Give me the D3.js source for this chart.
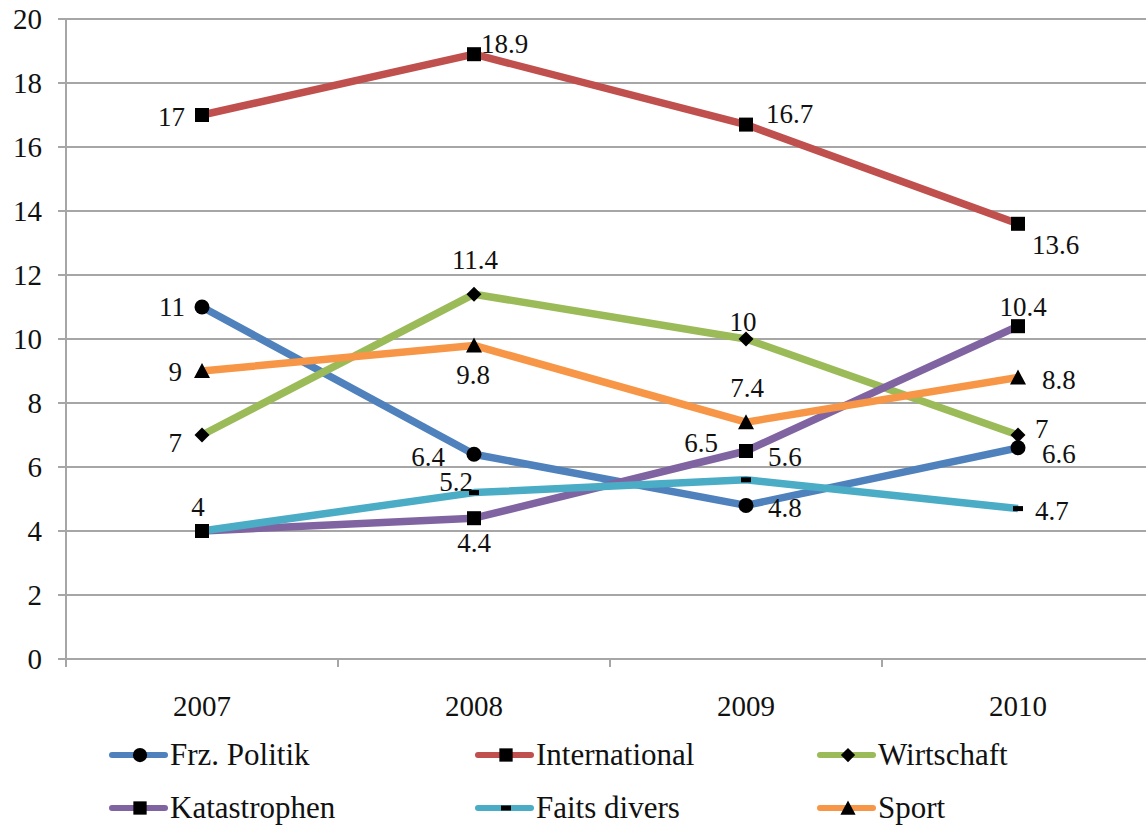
<!DOCTYPE html>
<html><head><meta charset="utf-8">
<script src="https://cdn.jsdelivr.net/npm/d3@7"></script>
<style>
svg text { font-family: "Times New Roman", Times, serif !important; }
</style>
</head><body style="margin:0">
<svg id="c" width="1146" height="826"></svg>
<script>
const years = ["2007","2008","2009","2010"];
const seriesNames = ["Frz. Politik","International","Wirtschaft","Katastrophen","Faits divers","Sport"];
const frzPolitik   = [11, 6.4, 4.8, 6.6];
const international= [17, 18.9, 16.7, 13.6];
const wirtschaft   = [7, 11.4, 10, 7];
const katastrophen = [4, 4.4, 6.5, 10.4];
const faitsDivers  = [4, 5.2, 5.6, 4.7];
const sport        = [9, 9.8, 7.4, 8.8];
const yTicks = [0,2,4,6,8,10,12,14,16,18,20];

// styling / layout (not data)
const colors = ["#4F81BD","#C0504D","#9BBB59","#8064A2","#4BACC6","#F79646"];
const markers = ["circle","square","diamond","square","dash","triangle"];
// label offsets per point: [dx, dy, anchor] (null = no label)
const labelPos = [
  [[-17,0,"end"],[-29,3,"end"],[22,3,"start"],[24,6,"start"]],
  [[-17,2,"end"],[7,-10,"start"],[20,-11,"start"],[14,21,"start"]],
  [[-20,8,"end"],[1,-34,"middle"],[-3,-17,"middle"],[17,-6,"start"]],
  [[-4,-24,"middle"],[0,25,"middle"],[-28,-8,"end"],[5,-19,"middle"]],
  [null,[-1,-11,"end"],[22,-23,"start"],[17,2,"start"]],
  [[-20,1,"end"],[-1,30,"middle"],[1,-34,"middle"],[24,3,"start"]]
];
const values = [frzPolitik, international, wirtschaft, katastrophen, faitsDivers, sport];

const svg = d3.select("#c");
function txt(sel){
  return sel.style("font-family", d => `"Times New Roman"`).attr("fill","#111");
}
const x = d3.scaleBand().domain(years).range([66, 1154]);
const y = d3.scaleLinear().domain([0,20]).range([659, 19]);
const cx = d => x(d) + x.bandwidth()/2;

svg.append("g").selectAll("line").data(yTicks).join("line")
  .attr("x1",58).attr("x2",1146).attr("y1",d=>y(d)).attr("y2",d=>y(d))
  .attr("stroke","#a6a6a6").attr("stroke-width",2);
svg.append("line").attr("x1",66).attr("x2",66).attr("y1",19).attr("y2",667).attr("stroke","#a6a6a6").attr("stroke-width",2);
svg.append("g").selectAll("line").data(years.slice(1)).join("line")
  .attr("x1",d=>x(d)).attr("x2",d=>x(d)).attr("y1",659).attr("y2",667)
  .attr("stroke","#a6a6a6").attr("stroke-width",2);
txt(svg.append("g").selectAll("text").data(yTicks).join("text")
  .attr("x",42).attr("y",d=>y(d)+10).attr("text-anchor","end")
  .attr("font-size",29)).text(d=>d);
txt(svg.append("g").selectAll("text").data(years).join("text")
  .attr("x",d=>cx(d)).attr("y",716).attr("text-anchor","middle")
  .attr("font-size",29)).text(d=>d);

function drawMarker(g, type, px, py, s) {
  s = s || 1;
  if (type==="circle") g.append("circle").attr("cx",px).attr("cy",py).attr("r",7.5*s).attr("fill","#000");
  else if (type==="square") g.append("rect").attr("x",px-7*s).attr("y",py-7*s).attr("width",14*s).attr("height",14*s).attr("fill","#000");
  else if (type==="diamond") g.append("path").attr("d",`M${px},${py-7.5*s}L${px+7.5*s},${py}L${px},${py+7.5*s}L${px-7.5*s},${py}Z`).attr("fill","#000");
  else if (type==="triangle") g.append("path").attr("d",`M${px},${py-8*s}L${px+8*s},${py+7*s}L${px-8*s},${py+7*s}Z`).attr("fill","#000");
  else if (type==="dash") g.append("rect").attr("x",px-5).attr("y",py-2.5).attr("width",10).attr("height",5).attr("fill","#000");
}

const line = d3.line().x((d,i)=>cx(years[i])).y(d=>y(d));
values.forEach((vals, si) => {
  svg.append("path").datum(vals).attr("d",line).attr("fill","none")
    .attr("stroke",colors[si]).attr("stroke-width",7.5).attr("stroke-linejoin","round");
});
values.forEach((vals, si) => {
  const g = svg.append("g");
  vals.forEach((v,i) => drawMarker(g, markers[si], cx(years[i]), y(v)));
});
values.forEach((vals, si) => {
  vals.forEach((v,i) => {
    const p = labelPos[si][i];
    if (!p) return;
    txt(svg.append("text").attr("x",cx(years[i])+p[0]).attr("y",y(v)+p[1]+9)
      .attr("text-anchor",p[2]).attr("font-size",27)).text(v);
  });
});

const legX = [112, 478, 820];
const legY = [755, 808];
seriesNames.forEach((name, si) => {
  const lx = legX[si%3], ly = legY[Math.floor(si/3)];
  const g = svg.append("g");
  g.append("line").attr("x1",lx).attr("x2",lx+53).attr("y1",ly).attr("y2",ly)
    .attr("stroke",colors[si]).attr("stroke-width",6).attr("stroke-linecap","round");
  drawMarker(g, markers[si], lx+28, ly, 0.95);
  txt(g.append("text").attr("x",lx+58).attr("y",ly+10).attr("font-size",31)).text(name);
});
</script></body></html>
